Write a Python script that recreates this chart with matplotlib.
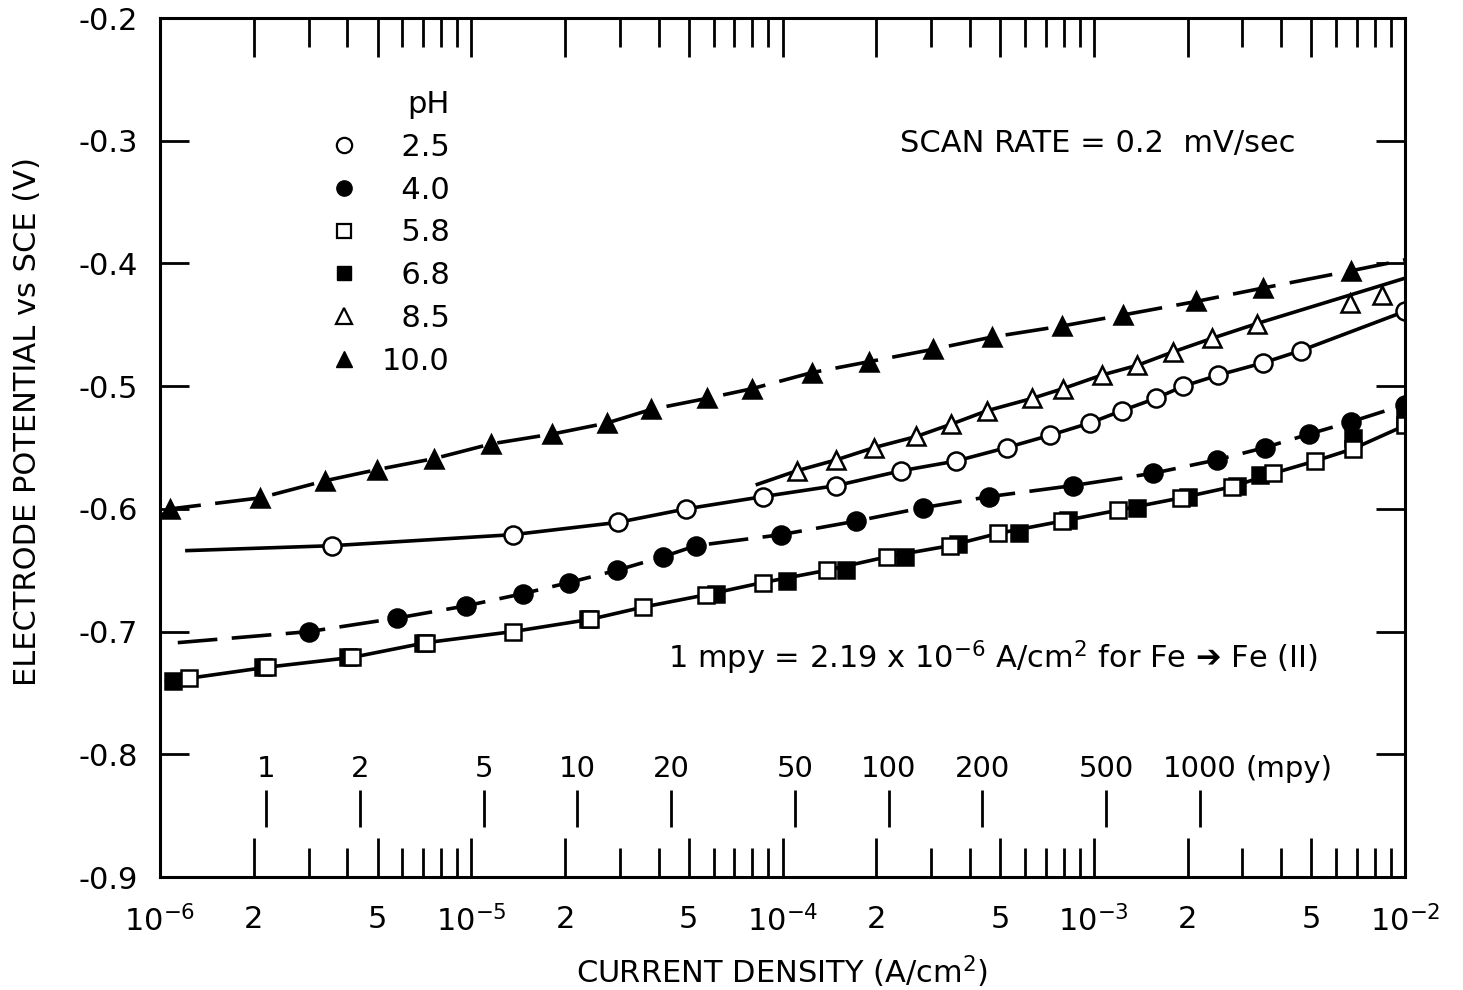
import matplotlib
matplotlib.use('Agg')
import matplotlib.pyplot as plt
from matplotlib.ticker import FixedLocator, FuncFormatter, FormatStrFormatter
from matplotlib.lines import Line2D
import math

plt.rcParams['font.family'] = ['DejaVu Sans']
plt.rcParams['axes.unicode_minus'] = False

# pH 2.5  (open circles, solid curve)
ph25_x = [3.57e-6, 1.36e-5, 2.96e-5, 4.90e-5, 8.65e-5, 1.49e-4, 2.40e-4, 3.61e-4, 5.26e-4,
          7.23e-4, 9.72e-4, 1.23e-3, 1.58e-3, 1.94e-3, 2.51e-3, 3.50e-3, 4.63e-3, 1.0e-2]
ph25_y = [-0.630, -0.621, -0.611, -0.600, -0.590, -0.581, -0.569, -0.561, -0.550,
          -0.540, -0.530, -0.520, -0.510, -0.500, -0.491, -0.481, -0.471, -0.439]
ph25_line_x = [1.22e-6] + ph25_x
ph25_line_y = [-0.634] + ph25_y

# pH 4.0  (filled circles, dashed curve)
ph40_x = [3.01e-6, 5.77e-6, 9.62e-6, 1.47e-5, 2.06e-5, 2.94e-5, 4.13e-5, 5.27e-5, 9.89e-5,
          1.72e-4, 2.83e-4, 4.61e-4, 8.57e-4, 1.55e-3, 2.49e-3, 3.55e-3, 4.92e-3, 6.71e-3, 1.0e-2]
ph40_y = [-0.700, -0.689, -0.679, -0.669, -0.660, -0.650, -0.639, -0.630, -0.621,
          -0.610, -0.599, -0.590, -0.581, -0.571, -0.560, -0.550, -0.539, -0.529, -0.515]
ph40_line_x = [1.14e-6] + ph40_x
ph40_line_y = [-0.709] + ph40_y

# pH 5.8  (open squares, solid curve)
ph58_x = [1.24e-6, 2.21e-6, 4.14e-6, 7.16e-6, 1.36e-5, 2.41e-5, 3.57e-5, 5.68e-5, 8.65e-5,
          1.39e-4, 2.17e-4, 3.45e-4, 4.92e-4, 7.90e-4, 1.20e-3, 1.91e-3, 2.78e-3, 3.77e-3,
          5.14e-3, 6.81e-3, 1.0e-2]
ph58_y = [-0.738, -0.729, -0.721, -0.709, -0.700, -0.690, -0.680, -0.670, -0.660,
          -0.650, -0.639, -0.630, -0.620, -0.610, -0.601, -0.591, -0.582, -0.571,
          -0.561, -0.551, -0.532]
ph58_line_x = [1.05e-6] + ph58_x
ph58_line_y = [-0.741] + ph58_y

# pH 6.8  (filled squares)
ph68_x = [1.10e-6, 2.14e-6, 4.02e-6, 7.0e-6, 2.37e-5, 6.11e-5, 1.03e-4, 1.60e-4, 2.48e-4,
          3.67e-4, 5.75e-4, 8.26e-4, 1.38e-3, 2.01e-3, 2.88e-3, 3.42e-3, 6.81e-3, 1.0e-2]
ph68_y = [-0.740, -0.729, -0.721, -0.709, -0.690, -0.669, -0.659, -0.650, -0.639,
          -0.629, -0.620, -0.609, -0.599, -0.590, -0.581, -0.572, -0.542, -0.526]

# pH 8.5  (open triangles, solid curve)
ph85_x = [1.11e-4, 1.49e-4, 1.97e-4, 2.69e-4, 3.48e-4, 4.54e-4, 6.33e-4, 7.96e-4, 1.06e-3,
          1.38e-3, 1.80e-3, 2.40e-3, 3.34e-3, 6.65e-3, 8.43e-3]
ph85_y = [-0.569, -0.560, -0.550, -0.541, -0.531, -0.520, -0.510, -0.502, -0.491,
          -0.483, -0.472, -0.461, -0.449, -0.432, -0.426]
ph85_line_x = [8.3e-5, 1.11e-4, 1.49e-4, 1.97e-4, 2.69e-4, 3.48e-4, 4.54e-4, 6.33e-4, 7.96e-4,
               1.06e-3, 1.38e-3, 1.80e-3, 2.40e-3, 3.34e-3, 1.0e-2]
ph85_line_y = [-0.580, -0.569, -0.560, -0.550, -0.541, -0.531, -0.520, -0.510, -0.502,
               -0.491, -0.483, -0.472, -0.461, -0.449, -0.412]

# pH 10.0  (filled triangles, dashed curve)
ph100_x = [1.08e-6, 2.1e-6, 3.4e-6, 4.98e-6, 7.6e-6, 1.16e-5, 1.82e-5, 2.73e-5, 3.78e-5,
           5.7e-5, 8.0e-5, 1.24e-4, 1.9e-4, 3.04e-4, 4.7e-4, 7.9e-4, 1.24e-3, 2.13e-3,
           3.5e-3, 6.7e-3]
ph100_y = [-0.600, -0.591, -0.577, -0.568, -0.559, -0.547, -0.539, -0.530, -0.519,
           -0.510, -0.502, -0.489, -0.480, -0.470, -0.460, -0.451, -0.442, -0.431,
           -0.420, -0.406]
ph100_line_x = [1.0e-6] + ph100_x + [1.0e-2]
ph100_line_y = [-0.606] + ph100_y + [-0.397]

# secondary corrosion-rate scale
mpy_per_amp = 2.19e-6
mpy_vals = [1, 2, 5, 10, 20, 50, 100, 200, 500, 1000]
mpy_pos = [v * mpy_per_amp for v in mpy_vals]

# labelled x ticks (1, 2, 5 per decade) and plain ones
x_major = [m * 10.0 ** e for e in range(-6, -2) for m in (1, 2, 5)] + [1e-2]
x_minor = [m * 10.0 ** e for e in range(-6, -2) for m in (3, 4, 6, 7, 8, 9)]

fig = plt.figure(figsize=(14.63, 9.9), dpi=100)
ax = fig.add_axes([0.1094, 0.1141, 0.851, 0.8677])
ax.set_xscale('log')
ax.set_xlim(1e-6, 1e-2)
ax.set_ylim(-0.9, -0.2)

lw = 2.6
ms = 13
mew = 1.8
ax.plot(ph100_line_x, ph100_line_y, color='black', lw=lw, ls=(0, (12, 4)))
ax.plot(ph85_line_x, ph85_line_y, color='black', lw=lw)
ax.plot(ph25_line_x, ph25_line_y, color='black', lw=lw)
ax.plot(ph40_line_x, ph40_line_y, color='black', lw=lw, ls=(0, (11, 4)))
ax.plot(ph58_line_x, ph58_line_y, color='black', lw=lw)

ax.plot(ph25_x, ph25_y, 'o', ms=ms, mfc='white', mec='black', mew=mew)
ax.plot(ph40_x, ph40_y, 'o', ms=ms, mfc='black', mec='black', mew=mew)
ax.plot(ph68_x, ph68_y, 's', ms=12, mfc='black', mec='black', mew=mew)
ax.plot(ph58_x, ph58_y, 's', ms=12, mfc='white', mec='black', mew=mew)
ax.plot(ph85_x, ph85_y, '^', ms=ms, mfc='white', mec='black', mew=mew)
ax.plot(ph100_x, ph100_y, '^', ms=ms, mfc='black', mec='black', mew=mew)

# mpy scale inside the plot
ax.vlines(mpy_pos, -0.859, -0.829, color='black', lw=2)
for v, p in zip(mpy_vals, mpy_pos):
    ax.text(p, -0.812, str(v), ha='center', va='center', fontsize=21)
ax.annotate('(mpy)', (mpy_pos[-1], -0.812), xytext=(33, 0), textcoords='offset points',
            ha='left', va='center', fontsize=21)

# axes styling
for s in ax.spines.values():
    s.set_linewidth(2.2)


def x_fmt(x, pos):
    e = math.floor(math.log10(x) + 1e-9)
    m = round(x / 10.0 ** e)
    if m == 1:
        return r'$10^{%d}$' % e
    return str(m)


ax.xaxis.set_major_locator(FixedLocator(x_major))
ax.xaxis.set_minor_locator(FixedLocator(x_minor))
ax.xaxis.set_major_formatter(FuncFormatter(x_fmt))
ax.xaxis.set_minor_formatter(FuncFormatter(lambda x, pos: ''))
ax.yaxis.set_major_locator(FixedLocator([-0.9, -0.8, -0.7, -0.6, -0.5, -0.4, -0.3, -0.2]))
ax.yaxis.set_major_formatter(FormatStrFormatter('%.1f'))
ax.tick_params(axis='x', which='major', direction='in', length=28, width=2, top=True,
               labelsize=22, pad=20)
ax.tick_params(axis='x', which='minor', direction='in', length=21, width=2, top=True)
ax.tick_params(axis='y', which='both', direction='in', length=21, width=2, right=True,
               labelsize=22, pad=16)

ax.set_xlabel('CURRENT DENSITY (A/cm$^2$)', fontsize=22, labelpad=12)
ax.set_ylabel('ELECTRODE POTENTIAL vs SCE (V)', fontsize=22)
ax.yaxis.set_label_coords(-0.095, 0.53)

ax.text(0.753, 0.854, 'SCAN RATE = 0.2  mV/sec', transform=ax.transAxes,
        ha='center', va='center', fontsize=22)
ax.text(0.408, 0.255, '1 mpy = 2.19 x 10$^{-6}$ A/cm$^2$ for Fe \u2794 Fe (II)',
        transform=ax.transAxes, ha='left', va='center', fontsize=22)

handles = [
    Line2D([], [], ls='none', marker='o', ms=11, mfc='white', mec='black', mew=1.6),
    Line2D([], [], ls='none', marker='o', ms=11, mfc='black', mec='black'),
    Line2D([], [], ls='none', marker='s', ms=10, mfc='white', mec='black', mew=1.6),
    Line2D([], [], ls='none', marker='s', ms=10, mfc='black', mec='black'),
    Line2D([], [], ls='none', marker='^', ms=11, mfc='white', mec='black', mew=1.6),
    Line2D([], [], ls='none', marker='^', ms=11, mfc='black', mec='black'),
]
# figure space keeps the pH values right-aligned like the original
labels = ['\u20072.5', '\u20074.0', '\u20075.8', '\u20076.8', '\u20078.5', '10.0']
leg = ax.legend(handles, labels, title='pH', loc='upper left', bbox_to_anchor=(0.113, 0.948),
                frameon=False, fontsize=22, title_fontsize=22, handlelength=1.0,
                handletextpad=0.75, labelspacing=0.45, alignment='right')

fig.savefig('out.png', dpi=100)
